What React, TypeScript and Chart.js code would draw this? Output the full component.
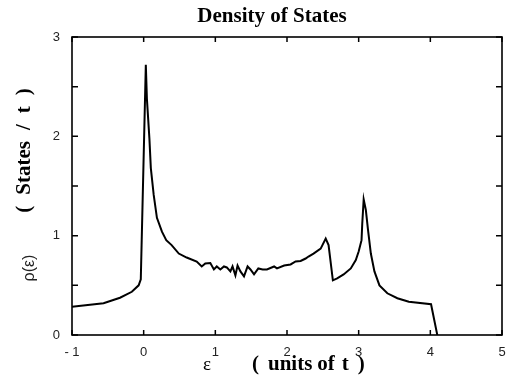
import React, { useEffect, useRef } from "react";
import { Chart, registerables } from "chart.js";

Chart.register(...registerables);

// Energy (units of t) and density of states rho(eps)
const epsValues = [
  -1.0, -0.56, -0.33, -0.165, -0.07, -0.04, 0.03, 0.045, 0.08, 0.1, 0.14, 0.185, 0.255, 0.315,
  0.39, 0.49, 0.6, 0.74, 0.81, 0.86, 0.93, 0.98, 1.02, 1.07, 1.12, 1.16, 1.21, 1.24, 1.28, 1.31,
  1.35, 1.4, 1.45, 1.49, 1.54, 1.6, 1.66, 1.72, 1.82, 1.86, 1.96, 2.05, 2.12, 2.19, 2.26, 2.3,
  2.37, 2.47, 2.54, 2.58, 2.64, 2.7, 2.79, 2.89, 2.96, 3.0, 3.04, 3.05, 3.07, 3.1, 3.13, 3.17,
  3.22, 3.29, 3.4, 3.54, 3.7, 4.01, 4.1,
];
const dosValues = [
  0.285, 0.32, 0.375, 0.435, 0.5, 0.56, 2.72, 2.38, 1.98, 1.68, 1.41, 1.18, 1.04, 0.955,
  0.905, 0.82, 0.78, 0.74, 0.69, 0.72, 0.725, 0.66, 0.69, 0.66, 0.69, 0.68, 0.64, 0.69, 0.6, 0.7,
  0.64, 0.59, 0.69, 0.66, 0.61, 0.67, 0.66, 0.66, 0.69, 0.67, 0.7, 0.71, 0.74, 0.745, 0.77, 0.79,
  0.82, 0.87, 0.97, 0.905, 0.55, 0.57, 0.61, 0.67, 0.755, 0.84, 0.955, 1.12, 1.365, 1.26, 1.06, 0.82,
  0.64, 0.5, 0.42, 0.37, 0.335, 0.31, -0.01,
];

const xTickValues = [-1, 0, 1, 2, 3, 4, 5];
const xTickLabels = ["- 1", "0", "1", "2", "3", "4", "5"];
const yTickValues = [0, 0.5, 1, 1.5, 2, 2.5, 3];
const yTickLabels = ["0", "", "1", "", "2", "", "3"];

const chartTitle = "Density of States";
const xTitleSymbol = "ε";
const xTitleParts = ["(", "units", "of", "t", ")"];
const yTitleSymbol = "ρ(ε)";
const yTitleParts = ["(", "States", "/", "t", ")"];

function drawParts(ctx: any, parts: string[], gaps: number[], startX: number, y: number) {
  let x = startX;
  parts.forEach((p, i) => {
    ctx.fillText(p, x, y);
    x += ctx.measureText(p).width + (gaps[i] || 0);
  });
}

function partsWidth(ctx: any, parts: string[], gaps: number[]) {
  let w = 0;
  parts.forEach((p, i) => {
    w += ctx.measureText(p).width + (i < parts.length - 1 ? gaps[i] || 0 : 0);
  });
  return w;
}

const framePlugin = {
  id: "framePlugin",
  afterDraw(chart: any) {
    const { ctx, chartArea, scales } = chart;
    const { left, right, top, bottom } = chartArea;
    const xs = scales.x;
    const ys = scales.y;
    ctx.save();
    ctx.strokeStyle = "#000";
    ctx.lineWidth = 1.6;
    ctx.strokeRect(left, top, right - left, bottom - top);
    ctx.lineWidth = 1.5;
    ctx.beginPath();
    xTickValues.forEach((v) => {
      const px = xs.getPixelForValue(v);
      ctx.moveTo(px, bottom);
      ctx.lineTo(px, bottom - 5);
      ctx.moveTo(px, top);
      ctx.lineTo(px, top + 5);
    });
    yTickValues.forEach((v) => {
      const py = ys.getPixelForValue(v);
      ctx.moveTo(left, py);
      ctx.lineTo(left + 6, py);
      ctx.moveTo(right, py);
      ctx.lineTo(right - 6, py);
    });
    ctx.stroke();

    ctx.fillStyle = "#000";
    ctx.font = "bold 21px 'Liberation Serif', serif";
    ctx.textAlign = "center";
    ctx.textBaseline = "alphabetic";
    ctx.fillText(chartTitle, 272, 22);

    ctx.font = "19px 'Liberation Serif', serif";
    ctx.fillText(xTitleSymbol, 207, 370);
    ctx.font = "bold 21px 'Liberation Serif', serif";
    ctx.textAlign = "left";
    drawParts(ctx, xTitleParts, [9, 5, 7, 9], 252, 370);

    ctx.save();
    ctx.translate(25, 150.5);
    ctx.rotate(-Math.PI / 2);
    ctx.textAlign = "left";
    ctx.textBaseline = "middle";
    ctx.font = "bold 21px 'Liberation Serif', serif";
    const yGaps = [11, 11, 11, 11];
    const w = partsWidth(ctx, yTitleParts, yGaps);
    drawParts(ctx, yTitleParts, yGaps, -w / 2, 0);
    ctx.restore();

    ctx.save();
    ctx.translate(30, 268);
    ctx.rotate(-Math.PI / 2);
    ctx.textAlign = "center";
    ctx.textBaseline = "middle";
    ctx.font = "16px 'Liberation Sans', sans-serif";
    ctx.fillStyle = "#222";
    ctx.fillText(yTitleSymbol, 0, 0);
    ctx.restore();

    ctx.restore();
  },
};

export default function App() {
  const canvasRef = useRef<HTMLCanvasElement | null>(null);

  useEffect(() => {
    document.body.style.margin = "0";
    const canvas = canvasRef.current;
    if (!canvas) return;
    const points = epsValues.map((x, i) => ({ x, y: dosValues[i] }));
    const chart = new Chart(canvas, {
      type: "line",
      data: {
        datasets: [
          {
            data: points,
            borderColor: "#000",
            borderWidth: 2,
            pointRadius: 0,
            tension: 0,
            fill: false,
          },
        ],
      },
      options: {
        responsive: false,
        animation: false,
        devicePixelRatio: 1,
        layout: { padding: { left: 0, top: 37, right: 5, bottom: 0 } },
        plugins: {
          legend: { display: false },
          title: { display: false },
          tooltip: { enabled: false },
        },
        scales: {
          x: {
            type: "linear",
            min: -1,
            max: 5,
            afterFit: (s: any) => {
              s.height = 50;
              s.paddingLeft = 0;
              s.paddingRight = 0;
            },
            afterBuildTicks: (s: any) => {
              s.ticks = xTickValues.map((v) => ({ value: v }));
            },
            ticks: {
              padding: 10,
              color: "#222",
              font: { family: "'Liberation Sans', sans-serif", size: 13 },
              callback: (v: any) => {
                const i = xTickValues.indexOf(Number(v));
                return i >= 0 ? xTickLabels[i] : "";
              },
              maxRotation: 0,
              autoSkip: false,
            },
            grid: { display: false, drawTicks: false },
            border: { display: false },
          },
          y: {
            type: "linear",
            min: 0,
            max: 3,
            afterFit: (s: any) => {
              s.width = 72;
              s.paddingTop = 0;
              s.paddingBottom = 0;
            },
            afterBuildTicks: (s: any) => {
              s.ticks = yTickValues.map((v) => ({ value: v }));
            },
            ticks: {
              padding: 12,
              color: "#222",
              font: { family: "'Liberation Sans', sans-serif", size: 13 },
              callback: (v: any) => {
                const i = yTickValues.indexOf(Number(v));
                return i >= 0 ? yTickLabels[i] : "";
              },
              autoSkip: false,
            },
            grid: { display: false, drawTicks: false },
            border: { display: false },
          },
        },
      },
      plugins: [framePlugin],
    });
    return () => chart.destroy();
  }, []);

  return (
    <div style={{ width: 507, height: 385, background: "#fff" }}>
      <canvas ref={canvasRef} width={507} height={385} style={{ display: "block" }} />
    </div>
  );
}
